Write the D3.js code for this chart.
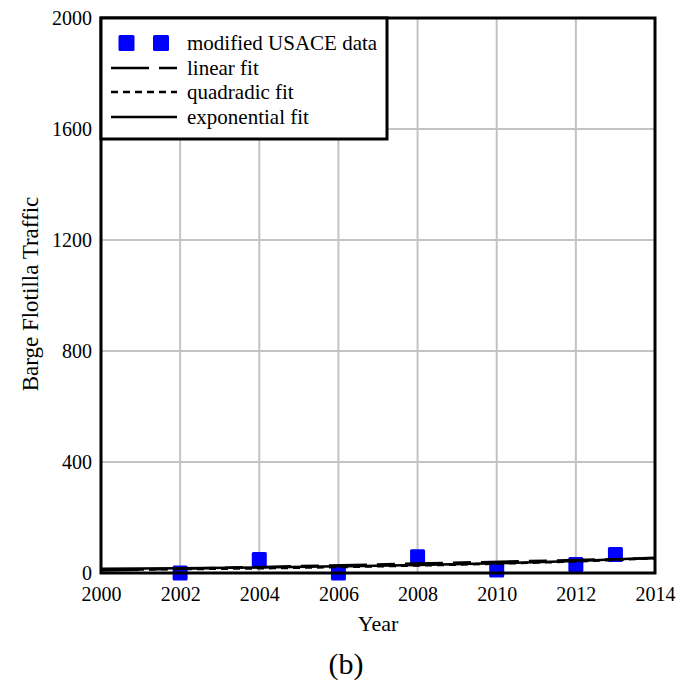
<!DOCTYPE html>
<html><head><meta charset="utf-8">
<script src="https://cdn.jsdelivr.net/npm/d3@7"></script>
<style>
body{margin:0;background:#fff;}
text{font-family:"Liberation Serif","Times New Roman",serif;fill:#000;}
</style></head>
<body><svg id="c" width="680" height="683"></svg>
<script>
const xTicks = [2000, 2002, 2004, 2006, 2008, 2010, 2012, 2014];
const yTicks = [0, 400, 800, 1200, 1600, 2000];
const dataYears = [2002, 2004, 2006, 2008, 2010, 2012, 2013];
const dataValues = [0, 49, 0, 59, 11, 31, 67];
const linearYears = [2000, 2014];
const linearValues = [9, 53];
const quadYears = [2000, 2004, 2008, 2012, 2014];
const quadValues = [12, 17, 27, 42, 53];
const expYears = [2000, 2002, 2004, 2006, 2008, 2010, 2012, 2014];
const expValues = [15, 17, 20, 24, 29, 35, 43, 55];
const legendLabels = ["modified USACE data", "linear fit", "quadradic fit", "exponential fit"];

const svg = d3.select("#c");
const L = 101, R = 655, T = 18, B = 573;
const x = d3.scaleLinear().domain([2000, 2014]).range([L, R]);
const y = d3.scaleLinear().domain([0, 2000]).range([B, T]);
const FF = '"Liberation Serif","Times New Roman",serif';

// grid
svg.append("g").selectAll("line").data(xTicks.slice(1, -1)).join("line")
  .attr("x1", d => x(d)).attr("x2", d => x(d)).attr("y1", T).attr("y2", B)
  .attr("stroke", "#c3c3c3").attr("stroke-width", 2);
svg.append("g").selectAll("line").data(yTicks.slice(1, -1)).join("line")
  .attr("y1", d => y(d)).attr("y2", d => y(d)).attr("x1", L).attr("x2", R)
  .attr("stroke", "#c3c3c3").attr("stroke-width", 2);

// axes
const xAx = svg.append("g").attr("transform", `translate(0,${B})`)
  .call(d3.axisBottom(x).tickValues(xTicks).tickFormat(d3.format("d")).tickSize(0).tickPadding(14));
xAx.select(".domain").remove();
xAx.selectAll("text").attr("font-size", 20).style("font-family", FF);
const yAx = svg.append("g").attr("transform", `translate(${L},0)`)
  .call(d3.axisLeft(y).tickValues(yTicks).tickFormat(d3.format("d")).tickSize(0).tickPadding(9));
yAx.select(".domain").remove();
yAx.selectAll("text").attr("font-size", 20).style("font-family", FF);

// data squares
svg.append("g").selectAll("rect").data(dataYears).join("rect")
  .attr("x", d => x(d) - 7.5).attr("y", (d, i) => y(dataValues[i]) - 7.5)
  .attr("width", 15).attr("height", 15).attr("rx", 1.5)
  .attr("fill", "#0000ff");

// fit lines
const ln = d3.line().x(d => x(d[0])).y(d => y(d[1])).curve(d3.curveMonotoneX);
svg.append("path").datum(linearYears.map((d, i) => [d, linearValues[i]]))
  .attr("d", ln).attr("fill", "none").attr("stroke", "#000").attr("stroke-width", 2.5)
  .attr("stroke-dasharray", "38,10,18,10");
svg.append("path").datum(quadYears.map((d, i) => [d, quadValues[i]]))
  .attr("d", ln).attr("fill", "none").attr("stroke", "#000").attr("stroke-width", 2.5)
  .attr("stroke-dasharray", "7,5");
svg.append("path").datum(expYears.map((d, i) => [d, expValues[i]]))
  .attr("d", ln).attr("fill", "none").attr("stroke", "#000").attr("stroke-width", 2.5);

// frame
svg.append("rect").attr("x", L).attr("y", T).attr("width", R - L).attr("height", B - T)
  .attr("fill", "none").attr("stroke", "#000").attr("stroke-width", 3);

// legend
const lg = svg.append("g");
lg.append("rect").attr("x", L).attr("y", T).attr("width", 286).attr("height", 121)
  .attr("fill", "#fff").attr("stroke", "#000").attr("stroke-width", 3);
const rows = [43, 68, 92, 117];
lg.selectAll("text").data(legendLabels).join("text")
  .attr("x", 187).attr("y", (d, i) => rows[i]).attr("dy", "0.35em")
  .attr("font-size", 21).text(d => d);
[126.5, 161].forEach(cx => lg.append("rect").attr("x", cx - 8).attr("y", rows[0] - 8)
  .attr("width", 16).attr("height", 16).attr("rx", 1.5).attr("fill", "#0000ff"));
lg.append("line").attr("x1", 111).attr("x2", 177).attr("y1", rows[1]).attr("y2", rows[1])
  .attr("stroke", "#000").attr("stroke-width", 2.5).attr("stroke-dasharray", "38,10,18");
lg.append("line").attr("x1", 111).attr("x2", 177).attr("y1", rows[2]).attr("y2", rows[2])
  .attr("stroke", "#000").attr("stroke-width", 2.5).attr("stroke-dasharray", "7,5");
lg.append("line").attr("x1", 111).attr("x2", 177).attr("y1", rows[3]).attr("y2", rows[3])
  .attr("stroke", "#000").attr("stroke-width", 2.5);

// titles
svg.append("text").attr("x", 378).attr("y", 623).attr("dy", "0.35em").attr("text-anchor", "middle")
  .attr("font-size", 22).text("Year");
svg.append("text").attr("transform", "translate(30,294) rotate(-90)").attr("dy", "0.35em")
  .attr("text-anchor", "middle").attr("font-size", 23).text("Barge Flotilla Traffic");
svg.append("text").attr("x", 346).attr("y", 663).attr("dy", "0.35em").attr("text-anchor", "middle")
  .attr("font-size", 30).text("(b)");
</script></body></html>
